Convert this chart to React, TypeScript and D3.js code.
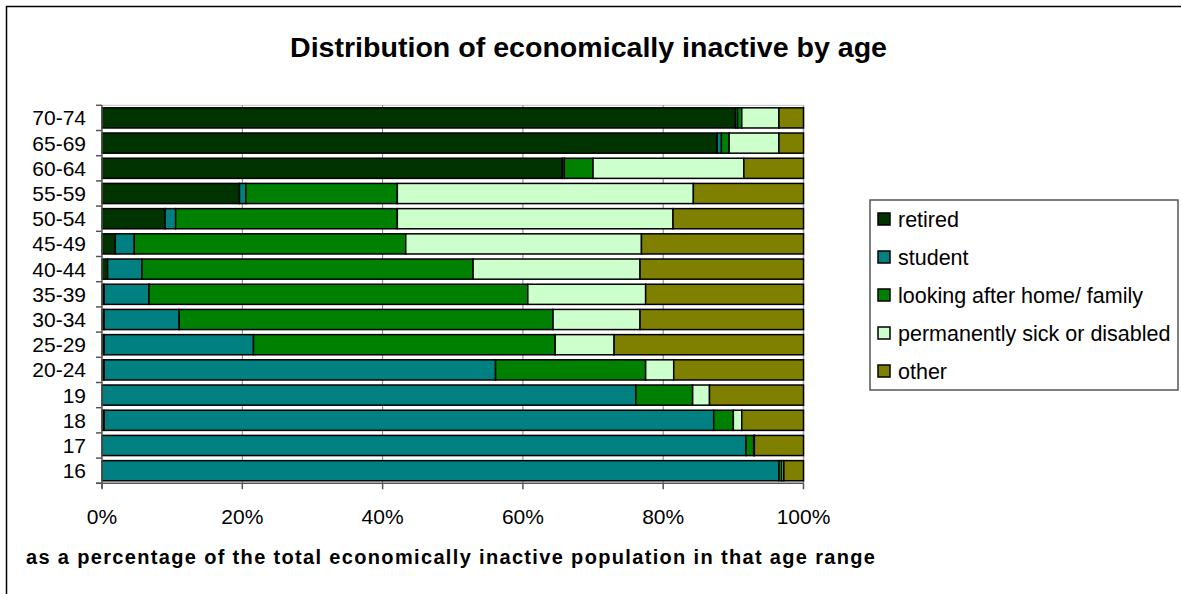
import React, { useEffect, useRef } from 'react';
import * as d3 from 'd3';

const ageGroups = ['70-74', '65-69', '60-64', '55-59', '50-54', '45-49', '40-44', '35-39', '30-34', '25-29', '20-24', '19', '18', '17', '16'];

const retired = [90.3, 87.7, 65.6, 19.6, 9.0, 1.9, 0.8, 0.3, 0.3, 0.3, 0.3, 0, 0.3, 0, 0];
const student = [0.3, 0.6, 0.3, 0.9, 1.5, 2.7, 4.9, 6.4, 10.7, 21.3, 55.8, 76.1, 86.9, 91.8, 96.5];
const lookingAfter = [0.6, 1.1, 4.1, 21.6, 31.6, 38.7, 47.2, 54.0, 53.3, 43.0, 21.4, 8.1, 2.8, 1.1, 0.4];
const sick = [5.3, 7.1, 21.5, 42.2, 39.3, 33.6, 23.8, 16.8, 12.4, 8.4, 4.0, 2.4, 1.2, 0.1, 0.3];
const other = [3.5, 3.5, 8.5, 15.7, 18.6, 23.1, 23.3, 22.5, 23.3, 27.0, 18.5, 13.4, 8.8, 7.0, 2.8];

const seriesNames = ['retired', 'student', 'looking after home/ family', 'permanently sick or disabled', 'other'];
const seriesColors = ['#003300', '#008080', '#008000', '#CCFFCC', '#808000'];
const xTicks = [0, 20, 40, 60, 80, 100];

const W = 1181;
const H = 594;
const FONT = '"Liberation Sans", Arial, sans-serif';

export default function App() {
    const ref = useRef<SVGSVGElement>(null);

    useEffect(() => {
        const svg = d3.select(ref.current);
        svg.selectAll('*').remove();

        const plot = { left: 102, right: 803.5, top: 105.3, bottom: 483.3 };

        // outer frame (only top and left edges show)
        svg.append('line').attr('x1', 6).attr('x2', W).attr('y1', 6.5).attr('y2', 6.5)
            .attr('stroke', '#000').attr('stroke-width', 1.5);
        svg.append('line').attr('x1', 6.5).attr('x2', 6.5).attr('y1', 6).attr('y2', H)
            .attr('stroke', '#000').attr('stroke-width', 1.5);

        svg.append('text')
            .attr('x', 290).attr('y', 57)
            .attr('textLength', 597).attr('lengthAdjust', 'spacingAndGlyphs')
            .style('font-family', FONT).style('font-size', '27px').style('font-weight', 'bold')
            .text('Distribution of economically inactive by age');

        const x = d3.scaleLinear().domain([0, 100]).range([plot.left, plot.right]);
        const y = d3.scaleBand().domain(ageGroups).range([plot.top, plot.bottom])
            .paddingInner(0.2).paddingOuter(0.1);
        const step = (plot.bottom - plot.top) / ageGroups.length;

        // plot frame and gridlines
        svg.append('line').attr('x1', plot.left).attr('x2', plot.right).attr('y1', plot.top).attr('y2', plot.top)
            .attr('stroke', '#c0c0c0').attr('stroke-width', 1);
        svg.append('line').attr('x1', plot.right).attr('x2', plot.right).attr('y1', plot.top).attr('y2', plot.bottom)
            .attr('stroke', '#a0a0a0').attr('stroke-width', 1.5);
        svg.append('g').selectAll('line')
            .data(xTicks.slice(1, -1))
            .join('line')
            .attr('x1', d => x(d)).attr('x2', d => x(d))
            .attr('y1', plot.top).attr('y2', plot.bottom)
            .attr('stroke', '#808080').attr('stroke-width', 1);

        // stacked bars
        const rows = ageGroups.map((age, i) => ({
            age, retired: retired[i], student: student[i], lookingAfter: lookingAfter[i], sick: sick[i], other: other[i]
        }));
        const keys = ['retired', 'student', 'lookingAfter', 'sick', 'other'];
        const stacked = d3.stack<any>().keys(keys)(rows);

        svg.append('g').selectAll('g')
            .data(stacked)
            .join('g')
            .attr('fill', (_, i) => seriesColors[i])
            .selectAll('rect')
            .data(d => d)
            .join('rect')
            .attr('x', d => x(d[0]))
            .attr('width', d => Math.max(0, x(d[1]) - x(d[0])))
            .attr('y', d => y(d.data.age) as number)
            .attr('height', y.bandwidth())
            .attr('stroke', '#000')
            .attr('stroke-width', 1.5);

        // axes
        svg.append('line').attr('x1', plot.left).attr('x2', plot.left).attr('y1', plot.top).attr('y2', plot.bottom + 5)
            .attr('stroke', '#555').attr('stroke-width', 1.5);
        svg.append('line').attr('x1', plot.left - 6).attr('x2', plot.right).attr('y1', plot.bottom).attr('y2', plot.bottom)
            .attr('stroke', '#555').attr('stroke-width', 1.5);
        svg.append('g').selectAll('line')
            .data(d3.range(ageGroups.length + 1))
            .join('line')
            .attr('x1', plot.left - 6).attr('x2', plot.left)
            .attr('y1', i => plot.top + i * step).attr('y2', i => plot.top + i * step)
            .attr('stroke', '#555').attr('stroke-width', 1.5);
        svg.append('g').selectAll('line')
            .data(xTicks)
            .join('line')
            .attr('x1', d => x(d)).attr('x2', d => x(d))
            .attr('y1', plot.bottom).attr('y2', plot.bottom + 6)
            .attr('stroke', '#555').attr('stroke-width', 1.5);

        svg.append('g').selectAll('text')
            .data(ageGroups)
            .join('text')
            .attr('x', 86)
            .attr('y', d => (y(d) as number) + y.bandwidth() / 2)
            .attr('dy', '0.36em')
            .attr('text-anchor', 'end')
            .style('font-family', FONT).style('font-size', '21px')
            .text(d => d);

        svg.append('g').selectAll('text')
            .data(xTicks)
            .join('text')
            .attr('x', d => x(d))
            .attr('y', 524)
            .attr('text-anchor', 'middle')
            .style('font-family', FONT).style('font-size', '21px')
            .text(d => d + '%');

        svg.append('text')
            .attr('x', 26).attr('y', 564)
            .attr('textLength', 849).attr('lengthAdjust', 'spacing')
            .style('font-family', FONT).style('font-size', '20px').style('font-weight', 'bold')
            .text('as a percentage of the total economically inactive population in that age range');

        // legend
        const legend = svg.append('g');
        legend.append('rect')
            .attr('x', 870).attr('y', 200).attr('width', 308).attr('height', 190)
            .attr('fill', '#fff').attr('stroke', '#555').attr('stroke-width', 1.5);
        const items = legend.selectAll('g')
            .data(seriesNames)
            .join('g')
            .attr('transform', (_, i) => `translate(0,${219 + i * 38})`);
        items.append('rect')
            .attr('x', 878).attr('y', -6).attr('width', 12).attr('height', 12)
            .attr('fill', (_, i) => seriesColors[i])
            .attr('stroke', '#000').attr('stroke-width', 1.5);
        items.append('text')
            .attr('x', 898).attr('y', 0).attr('dy', '0.36em')
            .style('font-family', FONT).style('font-size', '21.5px')
            .text(d => d);
    }, []);

    return (
        <svg ref={ref} width={W} height={H}
            style={{ position: 'absolute', left: 0, top: 0, background: '#fff' }} />
    );
}
